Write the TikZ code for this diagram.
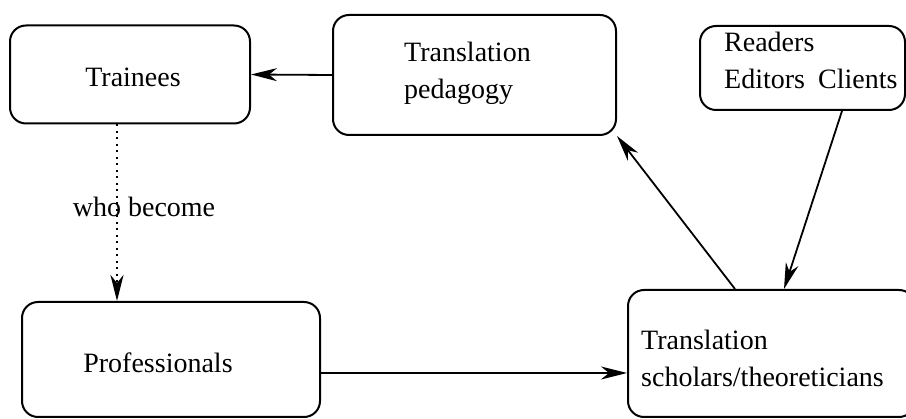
\documentclass[tikz,border=0pt]{standalone}
\usepackage{fontspec}
\setmainfont{Liberation Serif}
\usetikzlibrary{arrows.meta}
\begin{document}
\begin{tikzpicture}[x=1pt,y=-1pt,
  box/.style={draw, line width=2pt, rounded corners=16pt, inner sep=0pt},
  lbl/.style={inner sep=0pt, font=\fontsize{28}{37}\selectfont, align=left},
  arr/.style={line width=1.8pt, -{Stealth[length=26pt,width=13pt,inset=8pt]}},
  dotline/.style={arr, line width=2pt, dash pattern=on 2pt off 4.5pt}]
\useasboundingbox (0,0) rectangle (906,419);
\clip (0,0) rectangle (906,419);
\fill[white] (0,0) rectangle (906,419);
% boxes
\node[box, minimum width=240pt, minimum height=98pt] (trainees) at (130,74.5) {};
\node[box, minimum width=283pt, minimum height=120pt] (pedagogy) at (474.5,75) {};
\node[box, minimum width=205pt, minimum height=84pt] (readers) at (802.5,68) {};
\node[box, minimum width=298pt, minimum height=115pt] (professionals) at (171,359.5) {};
\node[box, minimum width=287pt, minimum height=127pt] (scholars) at (771.5,353.5) {};
% texts
\node[lbl] (traineestext) at (133,77) {Trainees};
\node[lbl, anchor=west] (pedagogytext) at (404,73) {Translation\\pedagogy};
\node[lbl, anchor=north west] (readerstext) at (724,32) {Readers\\Editors\hspace{13pt}Clients};
\node[lbl] (professionalstext) at (158,363) {Professionals};
\node[lbl, anchor=west] (scholarstext) at (641,358) {Translation\\scholars/theoreticians};
\node[lbl] (become) at (144,207) {who become};
% connectors
\draw[arr] (pedagogy.west) -- (trainees.east);
\draw[dotline] ([xshift=-13pt]trainees.south) -- ([xshift=-13pt]trainees.south |- professionals.north);
\draw[arr] ([yshift=-13.5pt]professionals.east) -- ([yshift=-13.5pt]professionals.east -| scholars.west);
\draw[arr] ([xshift=-36.5pt]scholars.north) -- (pedagogy.south east);
\draw[arr] ([xshift=39.5pt]readers.south) -- ([xshift=12.5pt]scholars.north);
\end{tikzpicture}
\end{document}
